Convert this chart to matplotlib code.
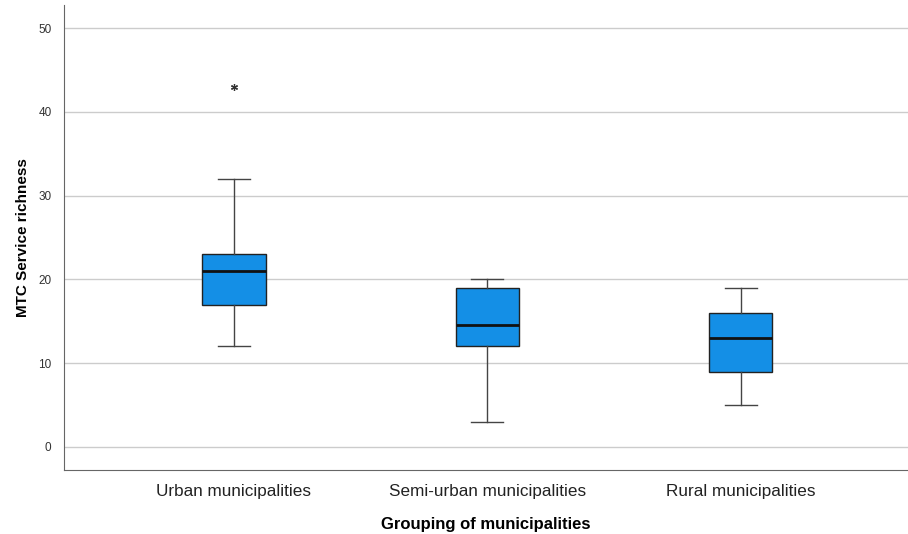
import matplotlib
matplotlib.use("Agg")
import matplotlib.pyplot as plt

plt.rcParams["font.family"] = ["Liberation Sans", "DejaVu Sans"]

# -------------------------------
# Data
# -------------------------------
groups = ["Urban municipalities", "Semi-urban municipalities", "Rural municipalities"]
whisker_low = [12, 3, 5]
q1 = [17, 12, 9]
medians = [21, 14.5, 13]
q3 = [23, 19, 16]
whisker_high = [32, 20, 19]
outliers = [[43], [], []]

stats = []
for i, name in enumerate(groups):
    stats.append({
        "label": name,
        "whislo": whisker_low[i],
        "q1": q1[i],
        "med": medians[i],
        "q3": q3[i],
        "whishi": whisker_high[i],
        "fliers": outliers[i],
    })

# -------------------------------
# Plot
# -------------------------------
fig = plt.figure(figsize=(9.08, 5.34), dpi=100)
ax = fig.add_axes([0.0705, 0.1199, 0.9295, 0.8707])

ax.bxp(stats, positions=[1, 2, 3], widths=0.25, patch_artist=True,
       showfliers=True,
       boxprops=dict(facecolor="#148FE6", edgecolor="#222222", linewidth=1.0),
       medianprops=dict(color="#111111", linewidth=2.0),
       whiskerprops=dict(color="#444444", linewidth=1.0),
       capprops=dict(color="#444444", linewidth=1.0),
       capwidths=0.125,
       flierprops=dict(marker=(6, 2, 0), markersize=5, markeredgecolor="#333333",
                       markeredgewidth=0.9, linestyle="none"))

ax.set_xlim(0.33, 3.66)
ax.set_ylim(-2.75, 52.75)
ax.set_yticks([0, 10, 20, 30, 40, 50])
ax.yaxis.grid(True, color="#cccccc", linewidth=1.0)
ax.set_axisbelow(True)

for side in ["top", "right"]:
    ax.spines[side].set_visible(False)
ax.spines["left"].set_color("#666666")
ax.spines["bottom"].set_color("#666666")
ax.tick_params(axis="both", length=0)
ax.tick_params(axis="y", labelsize=8.5, labelcolor="#333333", pad=9)
ax.tick_params(axis="x", labelsize=12.3, labelcolor="#222222", pad=10)

ax.set_ylabel("MTC Service richness", fontsize=11, fontweight="bold", labelpad=6)
ax.set_xlabel("Grouping of municipalities", fontsize=12, fontweight="bold", labelpad=13)

fig.savefig("out.png", dpi=100)
